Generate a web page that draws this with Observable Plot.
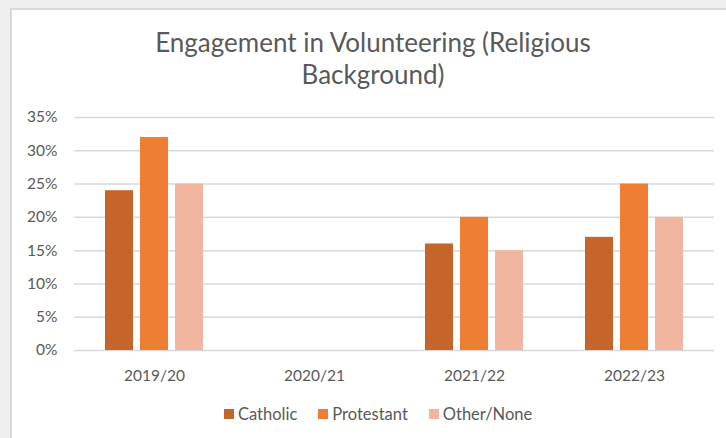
<!DOCTYPE html>
<html>
<head>
<meta charset="utf-8">
<script src="https://cdn.jsdelivr.net/npm/d3@7"></script>
<script src="https://cdn.jsdelivr.net/npm/@observablehq/plot@0.6"></script>
<style>
  html, body { margin: 0; padding: 0; }
  body { width: 726px; height: 438px; background: #efefef; position: relative; overflow: hidden; font-family: Lato, "Open Sans", sans-serif; color: #595959; }
  #panel { position: absolute; left: 10px; top: 8px; width: 730px; height: 440px; background: #ffffff; border-left: 2px solid #d9d9d9; border-top: 2px solid #d9d9d9; }
  #title { position: absolute; left: 0; top: 26px; width: 746px; text-align: center; font-size: 26px; line-height: 32px; color: #595959; }
  #chart { position: absolute; left: 0; top: 100px; }
  #legend { position: absolute; left: 224px; top: 404px; display: flex; align-items: center; font-size: 16.5px; color: #595959; }
  #legend .item { display: flex; align-items: center; margin-right: 21px; }
  #legend .sw { width: 10px; height: 10px; margin-right: 4px; }
</style>
</head>
<body>
<div id="panel"></div>
<div id="title">Engagement in Volunteering (Religious<br>Background)</div>
<div id="chart"></div>
<div id="legend"></div>
<script>
const years = ["2019/20", "2020/21", "2021/22", "2022/23"];
const series = ["Catholic", "Protestant", "Other/None"];
const catholic = [0.24, null, 0.16, 0.17];
const protestant = [0.32, null, 0.20, 0.25];
const otherNone = [0.25, null, 0.15, 0.20];
const colors = ["#C5652B", "#EE7E33", "#F2B5A0"];
const yTicks = [0, 0.05, 0.10, 0.15, 0.20, 0.25, 0.30, 0.35];

const valuesBySeries = [catholic, protestant, otherNone];
const rows = [];
years.forEach((yr, i) => {
  series.forEach((s, j) => {
    rows.push({year: yr, series: s, value: valuesBySeries[j][i]});
  });
});

const plot = Plot.plot({
  width: 726,
  height: 290,
  marginLeft: 73,
  marginRight: 11,
  marginTop: 17,
  marginBottom: 40,
  style: {fontFamily: "Lato, 'Open Sans', sans-serif", fontSize: "15.5px", color: "#595959", background: "transparent"},
  fx: {domain: years, padding: 0, axis: "bottom", tickSize: 0, tickPadding: 19, label: null},
  x: {domain: series, axis: null, paddingInner: 0.21, paddingOuter: 0.87},
  y: {domain: [0, 0.35], ticks: yTicks, tickFormat: d => Math.round(d * 100) + "%", tickSize: 0, tickPadding: 17, label: null},
  color: {domain: series, range: colors},
  marks: [
    Plot.gridY(yTicks, {stroke: "#d9d9d9", strokeOpacity: 1, strokeWidth: 1.5}),
    Plot.barY(rows, {fx: "year", x: "series", y: "value", fill: "series"})
  ]
});
document.getElementById("chart").appendChild(plot);

const legend = document.getElementById("legend");
series.forEach((s, j) => {
  const item = document.createElement("div");
  item.className = "item";
  const sw = document.createElement("span");
  sw.className = "sw";
  sw.style.background = colors[j];
  const label = document.createElement("span");
  label.textContent = s;
  item.appendChild(sw);
  item.appendChild(label);
  legend.appendChild(item);
});
</script>
</body>
</html>
